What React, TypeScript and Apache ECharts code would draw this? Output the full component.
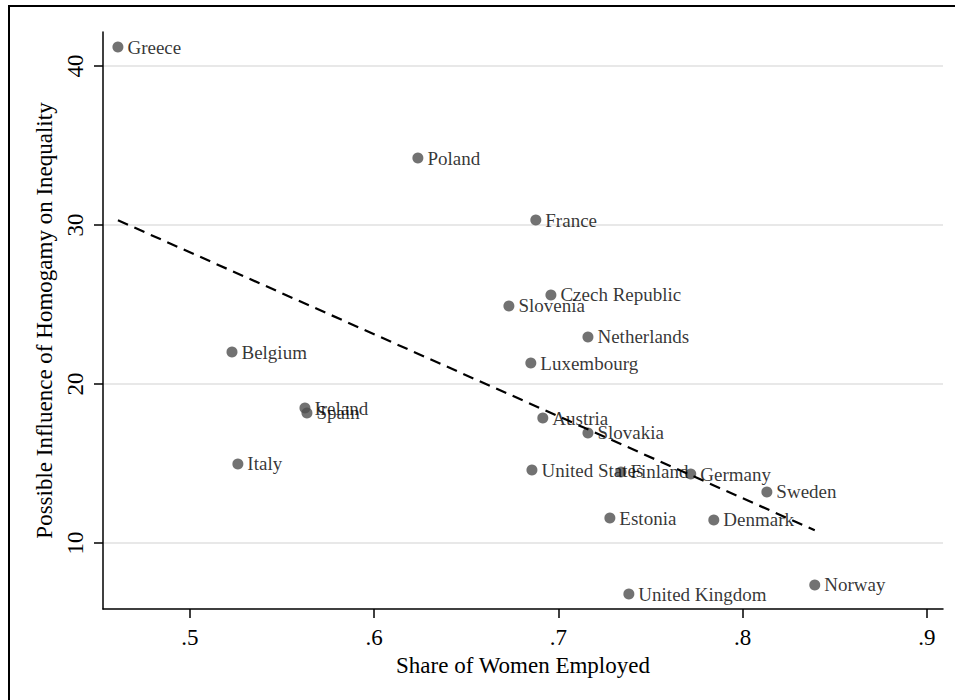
import React, { useEffect, useRef } from "react";
import * as echarts from "echarts";

const countries = [
  "Greece", "Poland", "France", "Czech Republic", "Slovenia", "Netherlands",
  "Luxembourg", "Belgium", "Ireland", "Spain", "Italy", "Austria", "Slovakia",
  "United States", "Finland", "Germany", "Sweden", "Estonia", "Denmark",
  "Norway", "United Kingdom",
];
const shareWomenEmployed = [
  0.4609, 0.6237, 0.6877, 0.6959, 0.6731, 0.716,
  0.685, 0.5228, 0.5624, 0.5635, 0.526, 0.6915, 0.716,
  0.6856, 0.7339, 0.7718, 0.8131, 0.7279, 0.7843,
  0.8391, 0.7382,
];
const homogamyInfluence = [
  41.19, 34.21, 30.31, 25.6, 24.91, 22.96,
  21.32, 22.01, 18.49, 18.18, 14.97, 17.86, 16.92,
  14.59, 14.47, 14.34, 13.21, 11.57, 11.45,
  7.36, 6.79,
];
const fitX = [0.4609, 0.8391];
const fitY = [30.3, 10.8];
const xTicks = [0.5, 0.6, 0.7, 0.8, 0.9];
const yTicks = [10, 20, 30, 40];

const FONT = "'Liberation Serif', 'Times New Roman', serif";

export default function App() {
  const ref = useRef<HTMLDivElement>(null);
  useEffect(() => {
    if (!ref.current) return;
    const chart = echarts.init(ref.current, undefined, { renderer: "svg" });
    const points = countries.map((c, i) => [shareWomenEmployed[i], homogamyInfluence[i], c]);
    const fit = fitX.map((x, i) => [x, fitY[i]]);
    chart.setOption({
      animation: false,
      backgroundColor: "#ffffff",
      textStyle: { fontFamily: FONT },
      grid: { left: 103, right: 12, top: 32, bottom: 91, containLabel: false },
      graphic: [
        {
          type: "rect",
          shape: { x: 9, y: 6, width: 2000, height: 2000 },
          style: { fill: "none", stroke: "#000", lineWidth: 2 },
          silent: true,
          z: 100,
        },
      ],
      xAxis: {
        type: "value",
        min: 0.4528,
        max: 0.9087,
        name: "Share of Women Employed",
        nameLocation: "middle",
        nameGap: 39,
        nameTextStyle: { fontFamily: FONT, fontSize: 23, color: "#000" },
        axisLine: { show: true, onZero: false, lineStyle: { color: "#000", width: 1.5 } },
        axisTick: { show: true, inside: false, length: 9, customValues: xTicks, lineStyle: { color: "#000", width: 1.5 } },
        axisLabel: {
          customValues: xTicks,
          margin: 17,
          fontFamily: FONT,
          fontSize: 23,
          color: "#000",
          formatter: (v: number) => String(Math.round(v * 10) / 10).replace(/^0/, ""),
        },
        splitLine: { show: false },
      },
      yAxis: {
        type: "value",
        min: 5.85,
        max: 42.14,
        name: "Possible Influence of Homogamy on Inequality",
        nameLocation: "middle",
        nameGap: 41,
        nameTextStyle: { fontFamily: FONT, fontSize: 23, color: "#000" },
        axisLine: { show: true, onZero: false, lineStyle: { color: "#000", width: 1.5 } },
        axisTick: { show: true, inside: false, length: 9, customValues: yTicks, lineStyle: { color: "#000", width: 1.5 } },
        axisLabel: {
          customValues: yTicks,
          rotate: 90,
          margin: 16,
          fontFamily: FONT,
          fontSize: 23,
          color: "#000",
        },
        splitLine: { show: true, lineStyle: { color: "#e8e8e8", width: 2 } },
      },
      series: [
        {
          type: "scatter",
          data: points,
          symbol: "circle",
          symbolSize: 11,
          itemStyle: { color: "#4f4f4f" },
          z: 2,
          label: {
            show: true,
            position: "right",
            distance: 4,
            formatter: (p: any) => p.data[2],
            fontFamily: FONT,
            fontSize: 19,
            color: "#000",
          },
        },
        {
          type: "line",
          data: fit,
          symbol: "none",
          z: 5,
          lineStyle: { color: "#000", width: 2.2, type: [11, 7] },
          silent: true,
        },
      ],
    });
    return () => chart.dispose();
  }, []);
  return (
    <div
      ref={ref}
      style={{ position: "fixed", left: 0, top: 0, width: 955, height: 700, background: "#fff" }}
    />
  );
}
